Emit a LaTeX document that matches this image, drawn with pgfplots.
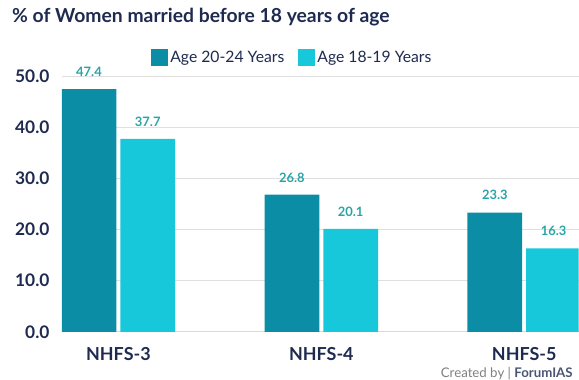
\documentclass[border=0pt]{standalone}
\usepackage{pgfplots}
\pgfplotsset{compat=1.18}
\usetikzlibrary{calc}
\usepackage{fontspec}
\setmainfont{Lato}
\definecolor{darkbar}{HTML}{0B8DA6}
\definecolor{lightbar}{HTML}{16C8DA}
\definecolor{navy}{HTML}{1E2A50}
\definecolor{vallab}{HTML}{2AA3A6}
\begin{document}
\begin{tikzpicture}
\begin{axis}[
  name=ax,
  scale only axis, width=517bp, height=281.6bp,
  xmin=-0.278, xmax=2.268, ymin=0, ymax=55,
  clip=true,
  ybar=4bp, bar width=0.27,
  axis x line*=bottom, axis y line*=left,
  x axis line style={draw=gray!30, line width=0.8pt},
  y axis line style={draw=none},
  tick style={draw=none},
  ymajorgrids, grid style={gray!25, line width=0.6pt},
  ytick={0,10,20,30,40,50},
  xtick={0,1,2}, xticklabels={NHFS-3,NHFS-4,NHFS-5},
  /pgf/number format/.cd, fixed, fixed zerofill, precision=1, assume math mode=true,
  /pgfplots/.cd,
  yticklabel style={text=navy, font=\bfseries\fontsize{17.4}{20}\selectfont, xshift=-9bp},
  xticklabel style={text=navy, font=\bfseries\fontsize{18}{21}\selectfont, yshift=-8bp},
  nodes near coords,
  nodes near coords style={text=vallab, font=\bfseries\fontsize{13}{15}\selectfont, yshift=9bp,
    /pgf/number format/.cd, fixed, fixed zerofill, precision=1},
  legend style={at={(0.446,0.975)}, anchor=center, draw=none, fill=none,
    legend columns=2, font=\fontsize{15.8}{18}\selectfont, text=navy,
    /tikz/every even column/.append style={column sep=12bp}},
  legend image code/.code={\fill[#1] (-3bp,-8.5bp) rectangle (14bp,8.5bp);},
]
\addplot[fill=darkbar, draw=none] coordinates {(0,47.4) (1,26.8) (2,23.3)};
\addplot[fill=lightbar, draw=none] coordinates {(0,37.7) (1,20.1) (2,16.3)};
\legend{Age 20-24 Years, Age 18-19 Years}
\end{axis}
\path ($(ax.south west)+(-62bp,-47bp)$) rectangle ($(ax.south west)+(517bp,332bp)$);
\node[anchor=west,inner sep=0pt,text=navy,font=\bfseries\fontsize{19.4}{22}\selectfont] at ($(ax.south west)+(-50bp,315bp)$) {\% of Women married before 18 years of age};
\node[anchor=west,inner sep=0pt,text=gray,font=\fontsize{13.3}{15}\selectfont] at ($(ax.south west)+(379bp,-42bp)$) {Created by | \textbf{\color{navy!80}ForumIAS}};
\end{tikzpicture}
\end{document}
